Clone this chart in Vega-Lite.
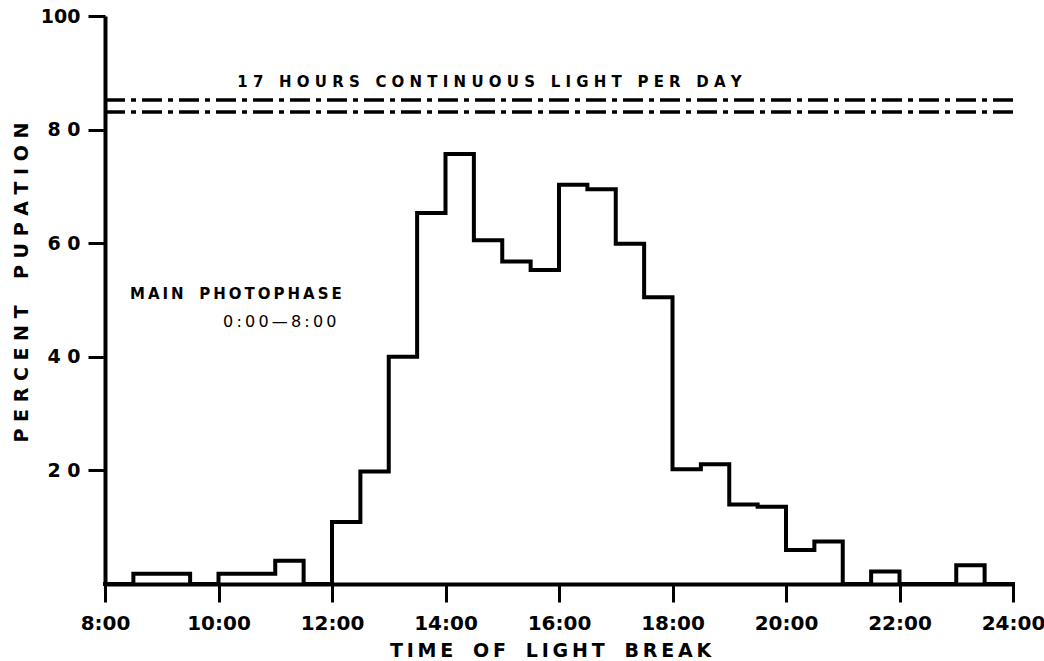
{
  "$schema": "https://vega.github.io/schema/vega-lite/v6.json",
  "autosize": {"type": "none"},
  "padding": {"left": 105, "top": 16, "right": 31, "bottom": 77},
  "width": 908,
  "height": 568,
  "background": "white",
  "config": {
    "view": {"stroke": null},
    "font": "DejaVu Sans",
    "axis": {
      "domainColor": "black", "domainWidth": 4, "tickColor": "black", "tickWidth": 3,
      "labelColor": "black", "titleColor": "black", "grid": false,
      "labelFont": "DejaVu Sans", "titleFont": "DejaVu Sans",
      "labelFontWeight": "bold", "titleFontWeight": "bold"
    }
  },
  "datasets": {
    "bins": [
      {"hour": 8.0, "pct": 0}, {"hour": 8.5, "pct": 1.8}, {"hour": 9.0, "pct": 1.8}, {"hour": 9.5, "pct": 0},
      {"hour": 10.0, "pct": 1.8}, {"hour": 10.5, "pct": 1.8}, {"hour": 11.0, "pct": 4.1}, {"hour": 11.5, "pct": 0},
      {"hour": 12.0, "pct": 10.9}, {"hour": 12.5, "pct": 19.8}, {"hour": 13.0, "pct": 40.0}, {"hour": 13.5, "pct": 65.3},
      {"hour": 14.0, "pct": 75.7}, {"hour": 14.5, "pct": 60.5}, {"hour": 15.0, "pct": 56.8}, {"hour": 15.5, "pct": 55.3},
      {"hour": 16.0, "pct": 70.3}, {"hour": 16.5, "pct": 69.5}, {"hour": 17.0, "pct": 59.9}, {"hour": 17.5, "pct": 50.5},
      {"hour": 18.0, "pct": 20.2}, {"hour": 18.5, "pct": 21.1}, {"hour": 19.0, "pct": 14.0}, {"hour": 19.5, "pct": 13.6},
      {"hour": 20.0, "pct": 6.0}, {"hour": 20.5, "pct": 7.5}, {"hour": 21.0, "pct": 0}, {"hour": 21.5, "pct": 2.2},
      {"hour": 22.0, "pct": 0}, {"hour": 22.5, "pct": 0}, {"hour": 23.0, "pct": 3.3}, {"hour": 23.5, "pct": 0},
      {"hour": 24.0, "pct": 0}
    ],
    "levels": [{"level": 85.2}, {"level": 83.1}],
    "notes": [
      {"hour": 10.33, "pct": 88.4, "label": "1 7\u00a0\u00a0\u00a0H O U R S\u00a0\u00a0\u00a0C O N T I N U O U S\u00a0\u00a0\u00a0L I G H T\u00a0\u00a0\u00a0P E R\u00a0\u00a0\u00a0D A Y", "kind": "a"},
      {"hour": 8.44, "pct": 51.1, "label": "M\u2009A\u2009I\u2009N\u00a0\u00a0\u00a0P\u2009H\u2009O\u2009T\u2009O\u2009P\u2009H\u2009A\u2009S\u2009E", "kind": "a"},
      {"hour": 10.08, "pct": 46.2, "label": "0\u2009:\u20090\u20090\u2009—\u20098\u2009:\u20090\u20090", "kind": "b"}
    ]
  },
  "encoding": {
    "x": {
      "type": "quantitative",
      "scale": {"domain": [8, 24], "nice": false, "zero": false},
      "axis": {
        "title": "T\u2009I\u2009M\u2009E\u00a0\u00a0\u00a0O\u2009F\u00a0\u00a0\u00a0L\u2009I\u2009G\u2009H\u2009T\u00a0\u00a0\u00a0B\u2009R\u2009E\u2009A\u2009K",
        "values": [8, 10, 12, 14, 16, 18, 20, 22, 24],
        "labelExpr": "datum.value + ':00'",
        "labelFontSize": 20, "labelBaseline": "middle", "labelPadding": 21, "tickSize": 18,
        "labelFlush": false, "labelOverlap": false,
        "titleFontSize": 19, "titleX": 445, "titleY": 66, "titleBaseline": "middle", "titleAlign": "center"
      }
    },
    "y": {
      "type": "quantitative",
      "scale": {"domain": [0, 100], "nice": false},
      "axis": {
        "title": "P E R C E N T\u00a0\u00a0\u00a0\u00a0P U P A T I O N",
        "values": [20, 40, 60, 80, 100],
        "labelExpr": "datum.value == 100 ? '100' : (floor(datum.value / 10) + ' 0')",
        "labelFontSize": 19, "labelPadding": 8, "tickSize": 17, "labelFlush": false, "labelOverlap": false,
        "titleFontSize": 19, "titleX": -84, "titleY": 266, "titleBaseline": "middle", "titleAlign": "center", "titleAngle": -90
      }
    }
  },
  "layer": [
    {
      "data": {"name": "levels"},
      "mark": {"type": "rule", "color": "black", "strokeWidth": 3.5, "strokeDash": [20, 6, 5, 6]},
      "encoding": {
        "y": {"field": "level", "type": "quantitative"},
        "x": {"datum": 8},
        "x2": {"datum": 24}
      }
    },
    {
      "data": {"name": "bins"},
      "mark": {"type": "line", "interpolate": "step-after", "color": "black", "strokeWidth": 4, "strokeJoin": "miter", "strokeCap": "square"},
      "encoding": {
        "x": {"field": "hour", "type": "quantitative"},
        "y": {"field": "pct", "type": "quantitative"}
      }
    },
    {
      "data": {"name": "notes"},
      "transform": [{"filter": "datum.kind == 'a'"}],
      "mark": {"type": "text", "align": "left", "baseline": "middle", "fontWeight": "bold", "fontSize": 15, "color": "black"},
      "encoding": {
        "x": {"field": "hour", "type": "quantitative"},
        "y": {"field": "pct", "type": "quantitative"},
        "text": {"field": "label"}
      }
    },
    {
      "data": {"name": "notes"},
      "transform": [{"filter": "datum.kind == 'b'"}],
      "mark": {"type": "text", "align": "left", "baseline": "middle", "fontWeight": "normal", "fontSize": 16, "color": "black"},
      "encoding": {
        "x": {"field": "hour", "type": "quantitative"},
        "y": {"field": "pct", "type": "quantitative"},
        "text": {"field": "label"}
      }
    }
  ]
}
